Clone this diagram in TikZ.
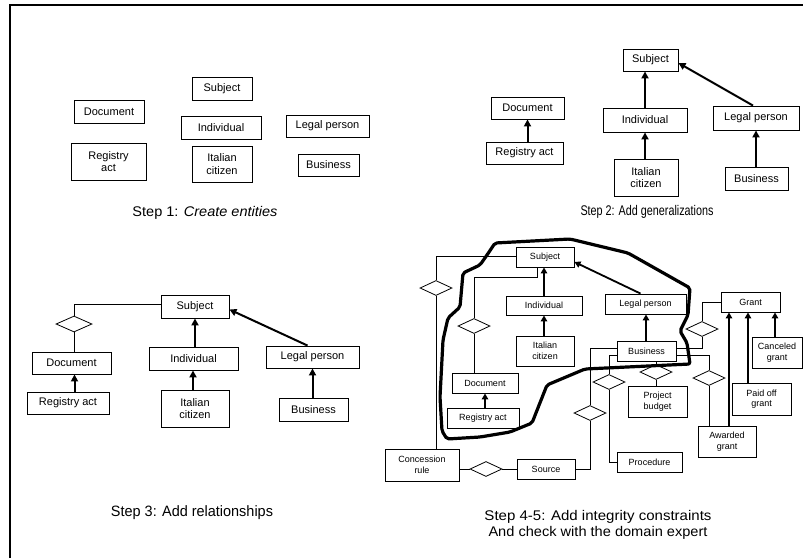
\documentclass[tikz,border=0pt]{standalone}
\usepackage{fontspec}
\setmainfont{Liberation Sans}
\usetikzlibrary{arrows.meta,shapes.geometric,calc}
\newcommand{\entbox}[7]{\node[#7, minimum width={(#4)-(#2)}, minimum height={(#5)-(#3)}] (#1) at ({((#2)+(#4))/2},{((#3)+(#5))/2}) {#6};}
\newcommand{\fitw}[2]{\resizebox{#1pt}{\height}{#2}}
\begin{document}
\begin{tikzpicture}[x=1pt,y=-1pt,
  ent/.style={draw, line width=0.9pt, inner sep=0pt, align=center, font=\fontsize{11}{12.5}\selectfont},
  entS/.style={draw, line width=0.9pt, inner sep=0pt, align=center, font=\fontsize{9}{10.5}\selectfont},
  rel/.style={draw, line width=0.8pt, shape=diamond, inner sep=0pt},
  link/.style={line width=0.9pt},
  gen/.style={line width=2pt, -{Triangle[length=7pt,width=7pt]}},
  genS/.style={line width=1.8pt, -{Triangle[length=6pt,width=6.5pt]}},
  steplabel/.style={inner sep=0pt, align=center},
  boundary/.style={line width=3.2pt, line join=round, rounded corners=2pt}]
\useasboundingbox (0,0) rectangle (803,558);
\fill[white] (0,0) rectangle (803,558);
% frame
\draw[line width=1.3pt] (10,558) -- (10,5) -- (803,5);

% ---------- Step 1 ----------
\entbox{s1}{192}{77}{252}{100}{Subject}{ent}
\entbox{doc1}{74}{100}{144}{123}{Document}{ent}
\entbox{ind1}{181}{116}{261}{139}{Individual}{ent}
\entbox{lp1}{286}{115}{369}{137}{Legal person}{ent}
\entbox{ra1}{71}{143}{146}{180}{Registry\\act}{ent}
\entbox{it1}{192}{146}{252}{182}{Italian\\citizen}{ent}
\entbox{bu1}{298}{154}{359}{176}{Business}{ent}
\node[steplabel, font=\fontsize{14}{16}\selectfont] (t1) at (205,213) {\fitw{145}{Step 1: \emph{Create entities}}};

% ---------- Step 2 ----------
\entbox{s2}{623}{49}{678}{71}{Subject}{ent}
\entbox{doc2}{491}{97}{564}{119}{Document}{ent}
\entbox{ra2}{486}{142}{563}{164}{Registry act}{ent}
\entbox{ind2}{603}{108}{687}{132}{Individual}{ent}
\entbox{lp2}{713}{106}{799}{130}{Legal person}{ent}
\entbox{it2}{614}{159}{678}{196}{Italian\\citizen}{ent}
\entbox{bu2}{725}{167}{788}{190}{Business}{ent}
\draw[gen] (ra2.north -| doc2.south) -- (doc2.south);
\draw[gen] (it2.north -| ind2.south) -- (ind2.south);
\draw[gen] (ind2.north) -- (ind2.north |- s2.south);
\draw[gen] (bu2.north -| lp2.south) -- (lp2.south);
\draw[gen] ([xshift=-3pt]lp2.north) -- ([yshift=-3pt]s2.east);
\node[steplabel, font=\fontsize{14}{16}\selectfont] (t2) at (647,212) {\fitw{133}{Step 2: Add generalizations}};

% ---------- Step 3 ----------
\entbox{s3}{161}{295}{229}{318}{Subject}{ent}
\entbox{doc3}{32}{352}{111}{374}{Document}{ent}
\entbox{ra3}{27}{392}{109}{414}{Registry act}{ent}
\entbox{ind3}{149}{347}{238}{370}{Individual}{ent}
\entbox{lp3}{266}{346}{359}{368}{Legal person}{ent}
\entbox{it3}{161}{390}{229}{427}{Italian\\citizen}{ent}
\entbox{bu3}{279}{398}{348}{421}{Business}{ent}
\node[rel, minimum width=36, minimum height=16] (r3) at (74,324) {};
\draw[link] (doc3.north -| r3.south) -- (r3.south);
\draw[link] (r3.north) |- ([yshift=2pt]s3.west);
\draw[gen] ([xshift=3pt]doc3.south |- ra3.north) -- ([xshift=3pt]doc3.south);
\draw[gen] ([xshift=-2pt]it3.north) -- ([xshift=-2pt]it3.north |- ind3.south);
\draw[gen] (ind3.north -| s3.south) -- (s3.south);
\draw[gen] (bu3.north -| lp3.south) -- (lp3.south);
\draw[gen] ([xshift=-5pt]lp3.north) -- ([yshift=-3pt]s3.east);
\node[steplabel, font=\fontsize{15}{17}\selectfont] (t3) at (192,513) {\fitw{162}{Step 3: Add relationships}};

% ---------- Step 4-5 ----------
\entbox{s4}{516}{247}{574}{267}{Subject}{entS}
\entbox{ind4}{506}{296}{582}{315}{Individual}{entS}
\entbox{it4}{516}{336}{574}{366}{Italian\\citizen}{entS}
\entbox{doc4}{452}{373}{518}{393}{Document}{entS}
\entbox{ra4}{447}{408}{519}{428}{Registry act}{entS}
\entbox{lp4}{605}{294}{686}{314}{Legal person}{entS}
\entbox{gr4}{721}{292}{780}{312}{Grant}{entS}
\entbox{bu4}{617}{341}{676}{361}{Business}{entS}
\entbox{pb4}{628}{386}{687}{417}{Project\\budget}{entS}
\entbox{cg4}{752}{337}{802}{368}{Canceled\\grant}{entS}
\entbox{pg4}{732}{383}{791}{415}{Paid off\\grant}{entS}
\entbox{ag4}{698}{426}{756}{457}{Awarded\\grant}{entS}
\entbox{pr4}{617}{452}{682}{472}{Procedure}{entS}
\entbox{so4}{517}{459}{575}{479}{Source}{entS}
\entbox{cr4}{385}{449}{459}{481}{Concession\\rule}{entS}

\node[rel, minimum width=32, minimum height=15] (da) at (436,288) {};
\node[rel, minimum width=32, minimum height=15] (db) at (474,326) {};
\node[rel, minimum width=32, minimum height=15] (dg) at (702,329) {};
\node[rel, minimum width=32, minimum height=15] (dp) at (656,372) {};
\node[rel, minimum width=32, minimum height=15] (dw) at (709,378) {};
\node[rel, minimum width=32, minimum height=15] (dr) at (609,382) {};
\node[rel, minimum width=32, minimum height=15] (ds) at (590,413) {};
\node[rel, minimum width=32, minimum height=15] (dc) at (486,469) {};
\coordinate (k1) at (537,277);

\draw[link] ([yshift=1pt]s4.west) -| (da.north);
\draw[link] (da.south) -- (da.south |- cr4.north);
\draw[link] (s4.south -| k1) -- (k1) -| (db.north);
\draw[link] (db.south) -- (db.south |- doc4.north);
\draw[link] (gr4.west) -| (dg.north);
\draw[link] (dg.south) |- ([yshift=3pt]bu4.east);
\draw[link] ([yshift=-4pt]bu4.east) -| (dw.north);
\draw[link] (dw.south) -- (dw.south |- ag4.north);
\draw[link] (bu4.south -| dp.north) -- (dp.north);
\draw[link] (dp.south) -- (dp.south |- pb4.north);
\draw[link] ([yshift=-4pt]bu4.west) -| (dr.north);
\draw[link] (dr.south) |- (pr4.west);
\draw[link] ([yshift=3pt]bu4.west) -| (ds.north);
\draw[link] (ds.south) |- (so4.east);
\draw[link] (dc.west -| cr4.east) -- (dc.west);
\draw[link] (dc.east) -- (dc.east -| so4.west);

\draw[genS] (ind4.north) -- (ind4.north |- s4.south);
\draw[genS] ([xshift=-1pt]it4.north) -- ([xshift=-1pt]it4.north |- ind4.south);
\draw[genS] (ra4.north -| doc4.south) -- (doc4.south);
\draw[genS] ([xshift=-0.5pt]bu4.north) -- ([xshift=-0.5pt]bu4.north |- lp4.south);
\draw[genS] ([xshift=-5pt]lp4.north) -- ([yshift=-5pt]s4.east);
\draw[genS] ([xshift=2pt]ag4.north) -- ([xshift=2pt]ag4.north |- gr4.south);
\draw[genS] ([xshift=-13.5pt]pg4.north) -- ([xshift=-13.5pt]pg4.north |- gr4.south);
\draw[genS] ([xshift=-2pt]cg4.north) -- ([xshift=-2pt]cg4.north |- gr4.south);

\draw[boundary] (495,243) -- (570,239) -- (628,253) -- (690,288) -- (688,315)
  -- (680,331) -- (687,343) -- (690,364) -- (585,369) -- (547,385) -- (532,423)
  -- (510,432) -- (480,437) -- (447,439) -- (442,431) -- (440,397) -- (443,340)
  -- (448,318) -- (460,307) -- (463,273) -- (480,265) -- (487,255) -- cycle;

\node[steplabel, font=\fontsize{14}{15.5}\selectfont] (t4) at (598,525)
  {\fitw{227}{Step 4-5: Add integrity constraints}\\ \fitw{219}{And check with the domain expert}};
\end{tikzpicture}
\end{document}
